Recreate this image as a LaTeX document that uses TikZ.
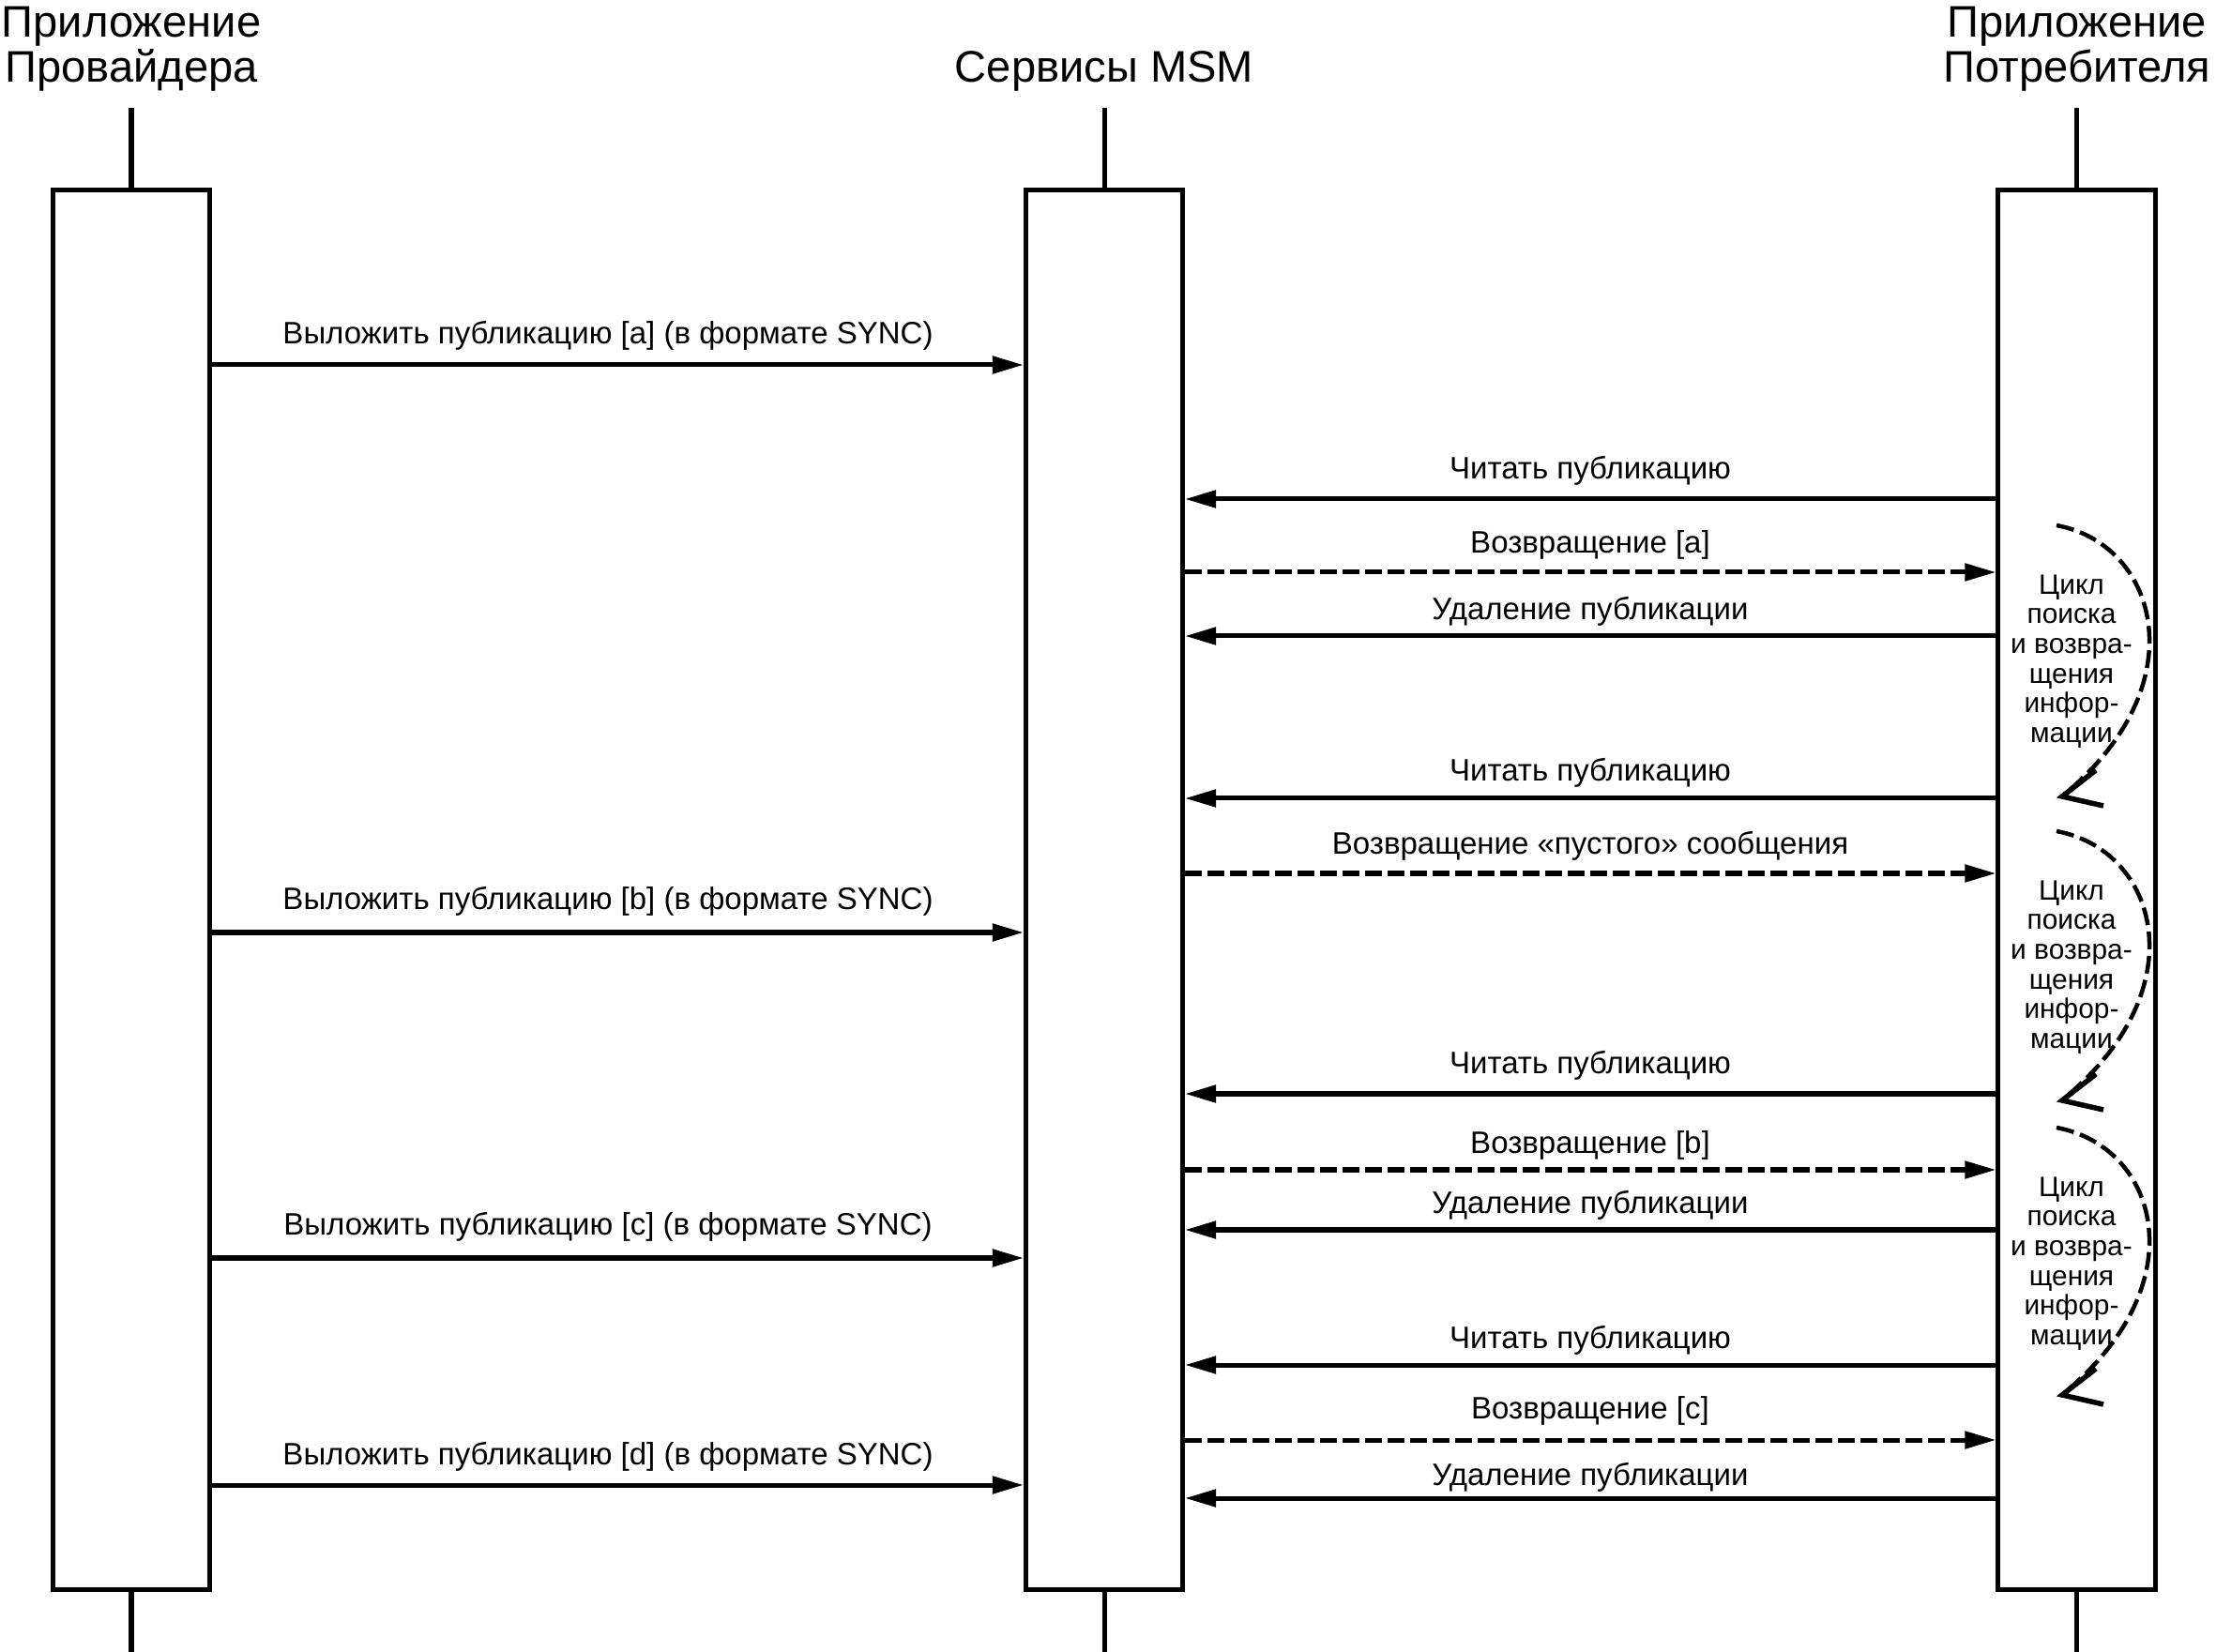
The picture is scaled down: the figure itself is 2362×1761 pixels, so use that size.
\documentclass[tikz,border=0pt]{standalone}
\usepackage{fontspec}
\setmainfont{Liberation Sans}
\usetikzlibrary{arrows.meta}
\newcommand\hdrfont{\fontsize{13.4pt}{13.66pt}\selectfont}
\newcommand\lblfont{\fontsize{9.39pt}{10pt}\selectfont}
\newcommand\loopfont{\fontsize{8.5pt}{9.0pt}\selectfont}
\begin{document}
\begin{tikzpicture}[x=0.01cm,y=-0.01cm,
  life/.style={draw, line width=0.05cm, minimum width=1.67cm, minimum height=14.92cm, inner sep=0pt},
  msg/.style={line width=0.05cm, -{Triangle[length=0.33cm,width=0.18cm]}},
  ret/.style={msg, dash pattern=on 0.18cm off 0.06cm},
  lbl/.style={anchor=base, inner sep=0pt, font=\lblfont},
  hdr/.style={align=center, inner sep=0pt, font=\hdrfont},
  stub/.style={line width=0.05cm},
  loopc/.style={line width=0.045cm, dash pattern=on 0.19cm off 0.07cm},
  loophead/.style={line width=0.055cm, line join=miter},
  loopt/.style={align=center, inner sep=0pt, font=\loopfont}]
\useasboundingbox (0,0) rectangle (2362,1761);
% lifeline boxes
\node[life] (P) at (140,948.5) {};
\node[life] (S) at (1177,948.5) {};
\node[life] (C) at (2213.5,948.5) {};
% headers
\node[hdr, anchor=north] (hP) at (140,6) {Приложение\\Провайдера};
\node[hdr, anchor=base] (hS) at (1177,88) {Сервисы MSM};
\node[hdr, anchor=north] (hC) at (2214,6) {Приложение\\Потребителя};
% stubs
\draw[stub] (P.north) -- (P.north |- 0,115);
\draw[stub] (S.north) -- (S.north |- 0,115);
\draw[stub] (C.north) -- (C.north |- 0,115);
\draw[stub] (P.south) -- (P.south |- 0,1761);
\draw[stub] (S.south) -- (S.south |- 0,1761);
\draw[stub] (C.south) -- (C.south |- 0,1761);
% messages
\draw[msg] (P.east |- 0,389) -- (S.west |- 0,389);
\node[lbl] (l1) at (648,367) {Выложить публикацию [a] (в формате SYNC)};
\draw[msg] (C.west |- 0,532) -- (S.east |- 0,532);
\node[lbl] (l2) at (1695,511) {Читать публикацию};
\draw[ret] (S.east |- 0,610) -- (C.west |- 0,610);
\node[lbl] (l3) at (1695,590) {Возвращение [a]};
\draw[msg] (C.west |- 0,678) -- (S.east |- 0,678);
\node[lbl] (l4) at (1695,661) {Удаление публикации};
\draw[msg] (C.west |- 0,851) -- (S.east |- 0,851);
\node[lbl] (l5) at (1695,833) {Читать публикацию};
\draw[ret] (S.east |- 0,931) -- (C.west |- 0,931);
\node[lbl] (l6) at (1695,911) {Возвращение «пустого» сообщения};
\draw[msg] (P.east |- 0,994) -- (S.west |- 0,994);
\node[lbl] (l7) at (648,970) {Выложить публикацию [b] (в формате SYNC)};
\draw[msg] (C.west |- 0,1166) -- (S.east |- 0,1166);
\node[lbl] (l8) at (1695,1145) {Читать публикацию};
\draw[ret] (S.east |- 0,1247) -- (C.west |- 0,1247);
\node[lbl] (l9) at (1695,1229) {Возвращение [b]};
\draw[msg] (C.west |- 0,1311) -- (S.east |- 0,1311);
\node[lbl] (l10) at (1695,1294) {Удаление публикации};
\draw[msg] (P.east |- 0,1341) -- (S.west |- 0,1341);
\node[lbl] (l11) at (648,1317) {Выложить публикацию [c] (в формате SYNC)};
\draw[msg] (C.west |- 0,1455) -- (S.east |- 0,1455);
\node[lbl] (l12) at (1695,1437) {Читать публикацию};
\draw[ret] (S.east |- 0,1535) -- (C.west |- 0,1535);
\node[lbl] (l13) at (1695,1512) {Возвращение [c]};
\draw[msg] (P.east |- 0,1583) -- (S.west |- 0,1583);
\node[lbl] (l14) at (648,1561) {Выложить публикацию [d] (в формате SYNC)};
\draw[msg] (C.west |- 0,1597) -- (S.east |- 0,1597);
\node[lbl] (l15) at (1695,1583) {Удаление публикации};
% loops
\foreach \T/\B/\n in {560/849/1, 886/1173/2, 1202/1487/3}{
  \draw[loopc] (2192,\T) .. controls (2300,\T+20) and (2343,\B-120) .. (2200,\B-2);
  \draw[loophead] (2234,\B-28) -- (2198,\B) -- (2242,\B+10);
  \node[loopt] (t\n) at (2208,\T+145) {Цикл\\поиска\\и возвра-\\щения\\инфор-\\мации};
}
\end{tikzpicture}
\end{document}
